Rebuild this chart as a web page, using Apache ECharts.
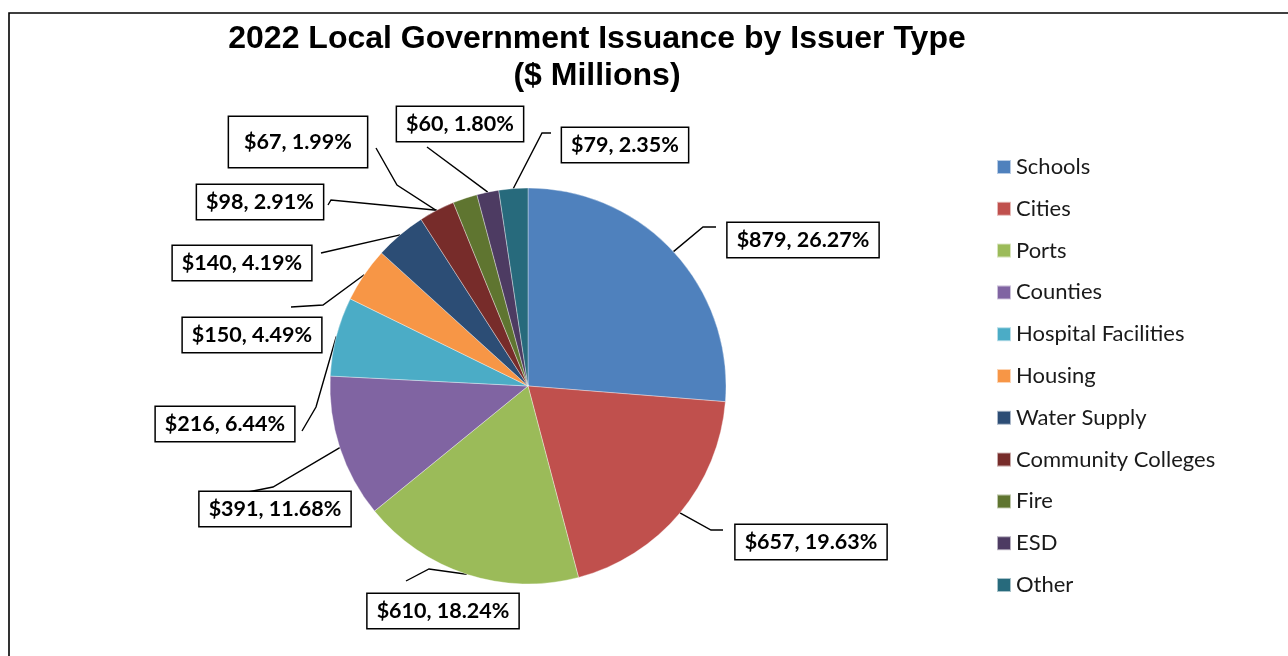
<!DOCTYPE html>
<html>
<head>
<meta charset="utf-8">
<script src="https://cdn.jsdelivr.net/npm/echarts@6/dist/echarts.min.js"></script>
<style>
  html, body { margin: 0; padding: 0; background: #fff; }
  #chart { width: 1288px; height: 656px; }
</style>
</head>
<body>
<div id="chart"></div>
<script>
// 2022 local government issuance, $ millions, by issuer type
const issuerTypes = ['Schools', 'Cities', 'Ports', 'Counties', 'Hospital Facilities', 'Housing',
  'Water Supply', 'Community Colleges', 'Fire', 'ESD', 'Other'];
const issuance = [879, 657, 610, 391, 216, 150, 140, 98, 67, 60, 79];
const sharePct = ['26.27', '19.63', '18.24', '11.68', '6.44', '4.49', '4.19', '2.91', '1.99', '1.80', '2.35'];

const sliceColors = ['#4F81BD', '#C0504D', '#9BBB59', '#8064A2', '#4BACC6', '#F79646',
  '#2C4D75', '#772C2A', '#5F7530', '#4D3B62', '#276A7C'];

// Pie geometry
const PIE_CENTER = [528, 386];
const PIE_RADIUS = 198;

// Where each callout box sits (box centre) and the bends of its leader line
const calloutCentres = [[803, 240], [811, 542], [443, 611], [275, 509], [225, 424], [252, 335],
  [242, 263], [260, 202], [298, 142], [460, 124], [625, 145]];
const leaderBends = [
  [[703, 227], [716, 227]],
  [[711, 530], [723, 530]],
  [[429, 569], [406, 581]],
  [[273, 487], [248, 492]],
  [[316, 407], [302, 431]],
  [[323, 305], [291, 307]],
  [[321, 253]],
  [[331, 200], [328, 205]],
  [[397, 185], [376, 148]],
  [[427, 147]],
  [[542, 133], [551, 133]]
];
// The Fire leader points into the slice rather than at its rim
const leaderInsideFrac = { 8: 0.79 };

const total = issuance.reduce((a, b) => a + b, 0);
function sliceMidAngle(i) {
  let before = 0;
  for (let k = 0; k < i; k++) before += issuance[k];
  return ((before + issuance[i] / 2) / total) * Math.PI * 2; // clockwise from 12 o'clock
}
function slicePoint(i, frac) {
  const a = sliceMidAngle(i);
  return [PIE_CENTER[0] + Math.sin(a) * PIE_RADIUS * frac, PIE_CENTER[1] - Math.cos(a) * PIE_RADIUS * frac];
}

const chart = echarts.init(document.getElementById('chart'), null, { renderer: 'canvas' });

const pieData = issuerTypes.map((name, i) => {
  const item = { name: name, value: issuance[i], itemStyle: { color: sliceColors[i] } };
  if (i === 8) item.label = { padding: [15, 15, 13, 15] };
  return item;
});

chart.setOption({
  animation: false,
  backgroundColor: '#fff',
  title: {
    text: '2022 Local Government Issuance by Issuer Type\n($ Millions)',
    left: 597,
    top: 21,
    padding: 0,
    textAlign: 'center',
    textStyle: {
      fontFamily: 'Liberation Sans',
      fontWeight: 'bold',
      fontSize: 32,
      lineHeight: 37,
      color: '#000'
    }
  },
  legend: {
    orient: 'vertical',
    left: 996,
    top: 156,
    padding: 0,
    icon: 'rect',
    itemWidth: 14,
    itemHeight: 14,
    itemGap: 19.8,
    selectedMode: false,
    data: issuerTypes,
    textStyle: {
      fontFamily: 'Lato',
      fontSize: 22,
      lineHeight: 22,
      color: '#1a1a1a',
      padding: [0, 0, 0, 0]
    }
  },
  graphic: [{
    type: 'rect',
    silent: true,
    z: -1,
    shape: { x: 9, y: 13, width: 1400, height: 1000 },
    style: { fill: 'none', stroke: '#000', lineWidth: 1.6 }
  }],
  series: [{
    type: 'pie',
    center: PIE_CENTER,
    radius: PIE_RADIUS,
    startAngle: 90,
    clockwise: true,
    avoidLabelOverlap: false,
    emphasis: { disabled: true },
    itemStyle: { borderColor: 'rgba(255,255,255,0.6)', borderWidth: 0.6 },
    label: {
      show: true,
      position: 'outside',
      formatter: p => '$' + p.value + ', ' + sharePct[p.dataIndex] + '%',
      fontFamily: 'Lato',
      fontWeight: 'bold',
      fontSize: 21.5,
      lineHeight: 22,
      color: '#000',
      backgroundColor: '#fff',
      borderColor: '#000',
      borderWidth: 1.5,
      padding: [6, 9, 6, 9]
    },
    labelLine: {
      show: true,
      length: 10,
      length2: 10,
      lineStyle: { color: '#000', width: 1.4 }
    },
    labelLayout: function (p) {
      const i = p.dataIndex;
      const c = calloutCentres[i];
      const start = leaderInsideFrac[i] ? slicePoint(i, leaderInsideFrac[i]) : slicePoint(i, 1);
      return {
        x: c[0],
        y: c[1],
        align: 'center',
        verticalAlign: 'middle',
        labelLinePoints: [start].concat(leaderBends[i])
      };
    },
    data: pieData
  }]
});
</script>
</body>
</html>
